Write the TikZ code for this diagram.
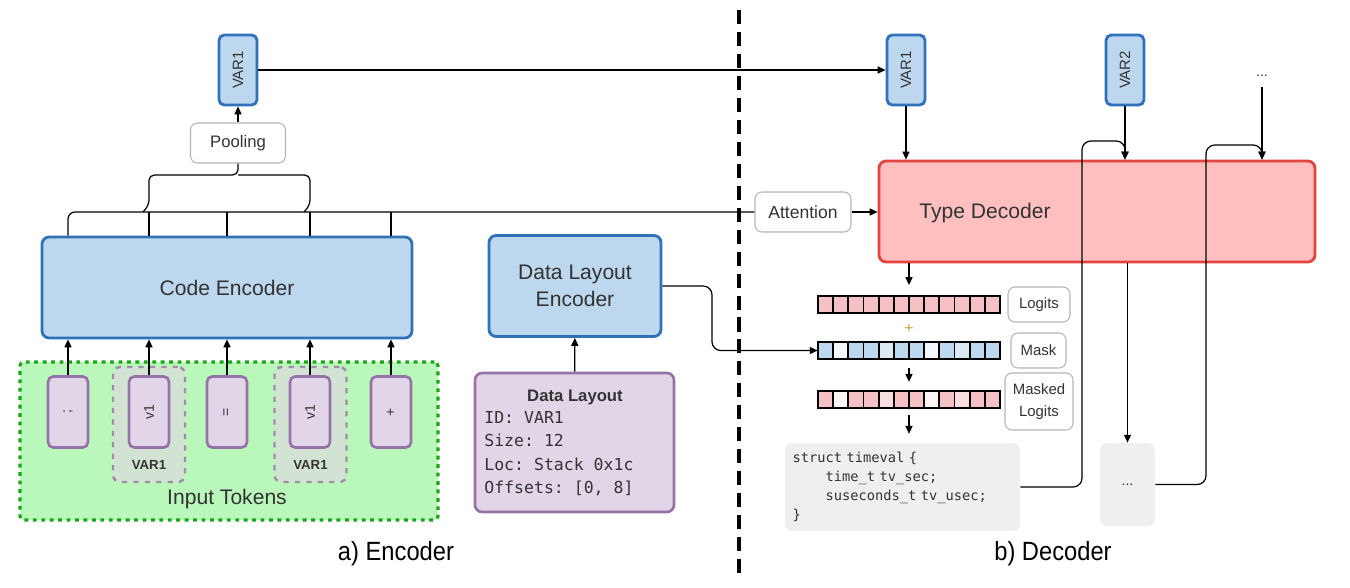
\documentclass[tikz,border=0pt]{standalone}
\usepackage{fontspec}
\setmainfont{Liberation Sans}
\setmonofont{DejaVu Sans Mono}
\usetikzlibrary{arrows.meta}
\definecolor{encblue}{HTML}{2F72BA}
\definecolor{encfill}{HTML}{BDD7EE}
\definecolor{decred}{HTML}{E2453F}
\definecolor{decfill}{HTML}{FFBFBF}
\definecolor{tokline}{HTML}{9673A6}
\definecolor{tokfill}{HTML}{E1D5E7}
\definecolor{inpfill}{HTML}{BAF7BA}
\definecolor{inpline}{HTML}{1AA51A}
\definecolor{varfill}{HTML}{D3E3D3}
\definecolor{varline}{HTML}{A08DA8}
\definecolor{labline}{HTML}{B5B5B5}
\definecolor{codefill}{HTML}{EFEFEF}
\definecolor{txt}{HTML}{333333}
\definecolor{plusc}{HTML}{C9A040}
\definecolor{mblue}{HTML}{BDD7EE}
\definecolor{mlight}{HTML}{DDEAF6}
\definecolor{mpale}{HTML}{F4F8FC}
\definecolor{lpink}{HTML}{F6C1C5}
\definecolor{llight}{HTML}{F9DEE0}
\definecolor{lpale}{HTML}{FDF4F4}

\newcommand{\ind}{\phantom{abcd}}

\tikzset{
  line/.style={draw=black, line width=0.7pt},
  arr/.style={line, -{Triangle[length=4.5pt,width=4pt]}},
  bluebox/.style={draw=encblue, fill=encfill, line width=1.6pt, rounded corners=4pt,
    text=txt, font=\fontsize{12}{15}\selectfont, align=center},
  varbox/.style={draw=encblue, fill=encfill, line width=1.6pt, rounded corners=3pt,
    minimum width=0.76cm, minimum height=1.4cm, inner sep=0pt, text=txt,
    font=\fontsize{8.5}{10}\selectfont},
  labbox/.style={draw=labline, fill=white, line width=0.6pt, rounded corners=4pt,
    text=txt, align=center, inner sep=0pt},
  token/.style={draw=tokline, fill=tokfill, line width=1.5pt, rounded corners=3pt,
    minimum width=0.8cm, minimum height=1.42cm, inner sep=0pt, text=txt,
    font=\fontsize{8}{10}\selectfont},
  vargrp/.style={draw=varline, fill=varfill, line width=1.4pt,
    dash pattern=on 3pt off 3.5pt, rounded corners=4pt,
    minimum width=1.44cm, minimum height=2.3cm},
  region/.style={draw=inpline, fill=inpfill, line width=1.8pt,
    dash pattern=on 2.2pt off 2.6pt, rounded corners=2pt,
    minimum width=8.36cm, minimum height=3.16cm},
  graybox/.style={fill=codefill, rounded corners=4pt, text=txt},
  divider/.style={draw=black, line width=1.8pt, dash pattern=on 8pt off 4.5pt},
  cell/.style={draw=black, line width=1.1pt},
  caption/.style={font=\fontsize{15}{17}\selectfont},
}

\begin{document}
\begin{tikzpicture}[x=0.02cm, y=-0.02cm]
\useasboundingbox (0,0) rectangle (1350,588);

% encoder
\node[region] (inp) at (229,441) {};
\node[vargrp] (g2) at (149,424.5) {};
\node[vargrp] (g4) at (310.5,424.5) {};
\node[token] (t1) at (68,412) {\rotatebox{90}{;}};
\node[token] (t2) at (149,412) {\rotatebox{90}{v1}};
\node[token] (t3) at (227,412) {\rotatebox{90}{=}};
\node[token] (t4) at (310,412) {\rotatebox{90}{v1}};
\node[token] (t5) at (391,412) {\rotatebox{90}{+}};
\node[text=txt, font=\fontsize{7.5}{9}\selectfont\bfseries] (g2l) at (149,465) {VAR1};
\node[text=txt, font=\fontsize{7.5}{9}\selectfont\bfseries] (g4l) at (310.5,465) {VAR1};
\node[text=txt, font=\fontsize{12}{14}\selectfont] (inpl) at (227,499) {Input Tokens};

\node[bluebox, minimum width=7.4cm, minimum height=2.02cm] (enc) at (227,287.5) {Code Encoder};
\node[labbox, minimum width=1.9cm, minimum height=0.8cm, font=\fontsize{9.5}{11}\selectfont] (pool) at (238,143) {Pooling};
\node[varbox] (encvar) at (238,70) {\rotatebox{90}{VAR1}};

\node[bluebox, minimum width=3.44cm, minimum height=2.02cm] (dle) at (575,286) {Data Layout\\Encoder};
\node[draw=tokline, fill=tokfill, line width=1.5pt, rounded corners=4pt,
  minimum width=3.98cm, minimum height=2.78cm] (dl) at (574.5,442.5) {};
\node[text=txt, font=\fontsize{9.5}{11}\selectfont\bfseries] (dlt) at (575,397) {Data Layout};
\node[text=txt, font=\fontsize{9.4}{13.3}\ttfamily, align=left, anchor=north west, inner sep=0pt]
  (dlinfo) at (484,411) {ID: VAR1\\Size: 12\\Loc: Stack 0x1c\\Offsets: [0, 8]};

% decoder
\node[varbox] (dvar1) at (906,70) {\rotatebox{90}{VAR1}};
\node[varbox] (dvar2) at (1125,70) {\rotatebox{90}{VAR2}};
\node[text=txt, font=\fontsize{8}{9}\selectfont, inner sep=1pt] (more) at (1262,76) {...};
\node[labbox, minimum width=1.92cm, minimum height=0.8cm, font=\fontsize{10}{12}\selectfont] (att) at (803,212) {Attention};
\node[draw=decred, fill=decfill, line width=1.6pt, rounded corners=4pt,
  minimum width=8.72cm, minimum height=2.02cm] (dec) at (1097,211.5) {};
\node[text=txt, font=\fontsize{12}{14}\selectfont] (dect) at (985,213) {Type Decoder};

\node[minimum width=3.64cm, minimum height=0.34cm, inner sep=0pt] (logits) at (909,304.5) {};
\foreach \c [count=\i from 0] in {lpink,lpink,lpink,lpink,lpink,lpink,lpink,lpink,lpink,lpink,lpink,lpink}
  \filldraw[cell, fill=\c] (818+\i*15.1667,296) rectangle ++(15.1667,17);
\node[text=plusc, font=\fontsize{9}{10}\selectfont] (plus) at (909,329) {+};
\node[minimum width=3.64cm, minimum height=0.34cm, inner sep=0pt] (mask) at (909,350.5) {};
\foreach \c [count=\i from 0] in {mblue,mpale,mblue,mblue,mlight,mblue,mblue,mpale,mblue,mlight,mblue,mblue}
  \filldraw[cell, fill=\c] (818+\i*15.1667,342) rectangle ++(15.1667,17);
\node[minimum width=3.64cm, minimum height=0.34cm, inner sep=0pt] (masked) at (909,399.5) {};
\foreach \c [count=\i from 0] in {lpink,lpale,lpink,lpink,llight,lpink,lpink,lpale,lpink,llight,lpink,lpink}
  \filldraw[cell, fill=\c] (818+\i*15.1667,391) rectangle ++(15.1667,17);

\node[labbox, minimum width=1.24cm, minimum height=0.7cm, font=\fontsize{8.5}{10}\selectfont] (lgl) at (1039,304.5) {Logits};
\node[labbox, minimum width=1.1cm, minimum height=0.7cm, font=\fontsize{8.5}{10}\selectfont] (mkl) at (1038.5,350.5) {Mask};
\node[labbox, minimum width=1.36cm, minimum height=1.14cm, font=\fontsize{8.5}{12.5}\selectfont] (mdl) at (1039,401.5) {Masked\\Logits};

\node[graybox, minimum width=4.7cm, minimum height=1.76cm, text width=4.4cm, inner xsep=0.15cm,
  align=left, font=\fontsize{7.8}{10.8}\ttfamily] (code) at (902.5,487)
  {struct timeval \{\\\ind time\_t tv\_sec;\\\ind suseconds\_t tv\_usec;\\\}};
\node[graybox, minimum width=1.1cm, minimum height=1.66cm, font=\fontsize{8}{9}\selectfont] (etc) at (1127.5,484.5) {...};

\node[caption] (capa) at (396,554) {\scalebox{0.9}[1]{a) Encoder}};
\node[caption] (capb) at (1053,554) {\scalebox{0.9}[1]{b) Decoder}};

% connectors, encoder side
\coordinate (bus) at (0,212);
\foreach \t in {t1,t2,t3,t4,t5}
  \draw[arr] (\t) -- (\t |- enc.south);
\draw[line, rounded corners=4pt] (enc.north -| t1) |- (att.west);
\foreach \t in {t2,t3,t4,t5}
  \draw[line] (enc.north -| \t) -- (bus -| \t);
\coordinate (bl1) at (143,212);
\coordinate (bl2) at (149,205);
\coordinate (bm) at (238,175);
\coordinate (br1) at (304,212);
\coordinate (br2) at (310,205);
\draw[line, rounded corners=3pt] (bl1) -- (bl2) |- (bm) -- (pool.south);
\draw[line, rounded corners=3pt] (br1) -- (br2) |- (bm);
\draw[arr] (pool) -- (encvar);
\draw[arr] (encvar) -- (dvar1);
\draw[arr] (dl) -- (dle);
\coordinate (mbend) at (712,0);
\draw[arr, rounded corners=5pt] (dle.east) -| (mbend |- mask.west) -- (mask.west);

\coordinate (divtop) at (739,10);
\coordinate (divbot) at (739,576);
\draw[divider] (divtop) -- (divbot);

% connectors, decoder side
\draw[arr] (dvar1) -- (dvar1 |- dec.north);
\draw[arr] (dvar2) -- (dvar2 |- dec.north);
\draw[arr] (more.south) ++(0,8) -- (more |- dec.north);
\draw[arr] (att) -- (dec.west |- att.east);
\draw[arr, shorten >=6pt] (dec.south -| logits) -- (logits.north);
\draw[arr, shorten <=5pt, shorten >=5pt] (mask.south) -- (masked.north);
\draw[arr, shorten <=4pt, shorten >=5pt] (masked.south) -- (code.north -| masked);
\draw[arr] (dec.south -| etc) -- (etc.north);
\coordinate (loopa) at (1082,141);
\coordinate (loopb) at (1206,145);
\draw[arr, rounded corners=5pt] (code.east) -| (loopa) -| (dvar2 |- dec.north);
\draw[arr, rounded corners=5pt] (etc.east) -| (loopb) -| (more |- dec.north);
\end{tikzpicture}
\end{document}
